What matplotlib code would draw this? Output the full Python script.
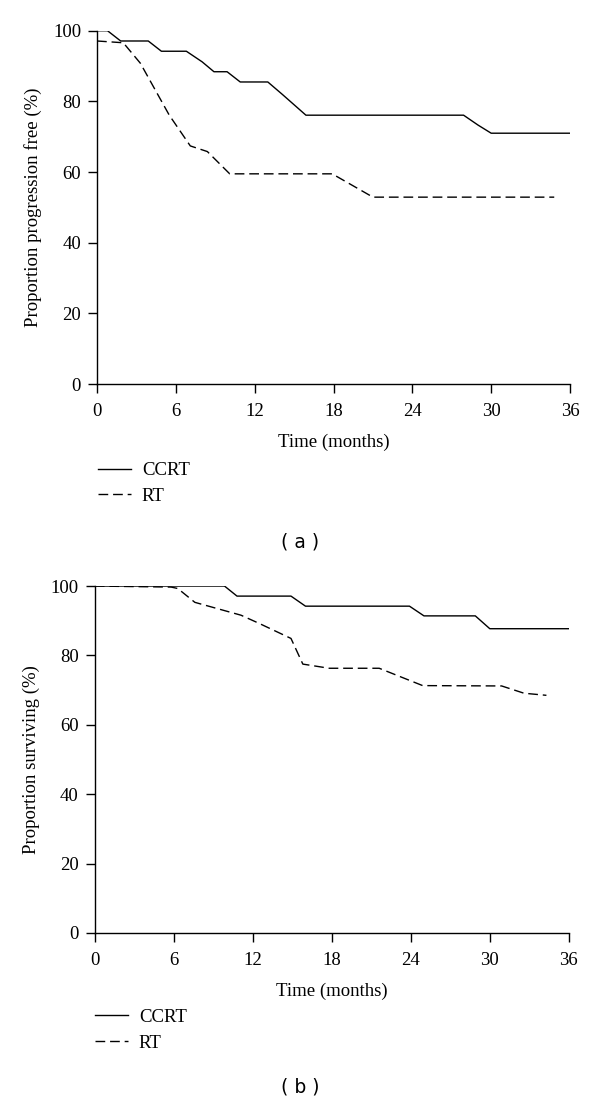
import matplotlib
matplotlib.use("Agg")
import matplotlib.pyplot as plt

plt.rcParams['font.family'] = ['Liberation Serif', 'DejaVu Serif']

# (a) progression free survival
pfs_ccrt_t = [0, 0.8, 1.8, 3.9, 4.9, 6.8, 8.0, 8.9, 9.9, 10.9, 13.0, 14.1, 15.9, 27.9, 29.0, 30.0, 36]
pfs_ccrt_v = [100, 100, 97.1, 97.1, 94.2, 94.2, 91.2, 88.4, 88.4, 85.5, 85.5, 82.0, 76.1, 76.1, 73.3, 71.0, 71.0]
pfs_rt_t = [0, 2.0, 3.3, 5.5, 7.1, 8.4, 10.1, 17.9, 21.0, 34.8]
pfs_rt_v = [97.1, 96.6, 90.8, 76.1, 67.4, 65.8, 59.5, 59.5, 52.9, 52.9]

# (b) overall survival
os_ccrt_t = [0, 9.85, 10.8, 14.9, 16.0, 23.9, 25.0, 28.9, 30.0, 36]
os_ccrt_v = [100, 100, 97.1, 97.1, 94.2, 94.2, 91.4, 91.4, 87.7, 87.7]
os_rt_t = [0, 5.8, 6.3, 7.6, 11.1, 12.5, 14.9, 15.8, 17.8, 21.6, 24.9, 30.9, 32.6, 34.3]
os_rt_v = [100, 99.7, 99.3, 95.3, 91.6, 89.2, 84.9, 77.5, 76.3, 76.3, 71.3, 71.2, 69.1, 68.5]

xticks = [0, 6, 12, 18, 24, 30, 36]
yticks = [0, 20, 40, 60, 80, 100]

fs = 13.5

fig = plt.figure(figsize=(6, 11.02), dpi=100)
ax1 = fig.add_axes([0.1617, 0.6515, 0.7883, 0.3206])
ax2 = fig.add_axes([0.158, 0.1534, 0.79, 0.3148])

panels = [
    (ax1, pfs_ccrt_t, pfs_ccrt_v, pfs_rt_t, pfs_rt_v, 'Proportion progression free (%)', (0.163, 0.5805), '( a )', 0.508),
    (ax2, os_ccrt_t, os_ccrt_v, os_rt_t, os_rt_v, 'Proportion surviving (%)', (0.158, 0.0845), '( b )', 0.0136),
]

for ax, ct, cv, rt, rv, ylab, leg_pos, tag, tag_y in panels:
    ax.plot(ct, cv, color='black', lw=1.0, label='CCRT')
    ax.plot(rt, rv, color='black', lw=1.0, ls=(0, (7, 3.5)), label='RT')
    ax.set_xlim(0, 36)
    ax.set_ylim(0, 100)
    ax.set_xticks(xticks)
    ax.set_yticks(yticks)
    for s in ['top', 'right']:
        ax.spines[s].set_visible(False)
    ax.spines['left'].set_linewidth(1.0)
    ax.spines['bottom'].set_linewidth(1.0)
    ax.tick_params(direction='out', length=6.5, width=1.0, labelsize=fs, pad=5)
    ax.tick_params(axis='x', pad=7)
    ax.set_xlabel('Time (months)', fontsize=fs, labelpad=10)
    ax.set_ylabel(ylab, fontsize=fs, labelpad=8)
    ax.legend(loc='upper left', bbox_to_anchor=leg_pos, bbox_transform=fig.transFigure,
              frameon=False, fontsize=fs, handlelength=1.75, handletextpad=0.6,
              labelspacing=0.45, borderpad=0, borderaxespad=0)
    fig.text(0.5, tag_y, tag, ha='center', va='center', fontsize=fs, family='DejaVu Sans')

fig.savefig('out.png', dpi=100)
